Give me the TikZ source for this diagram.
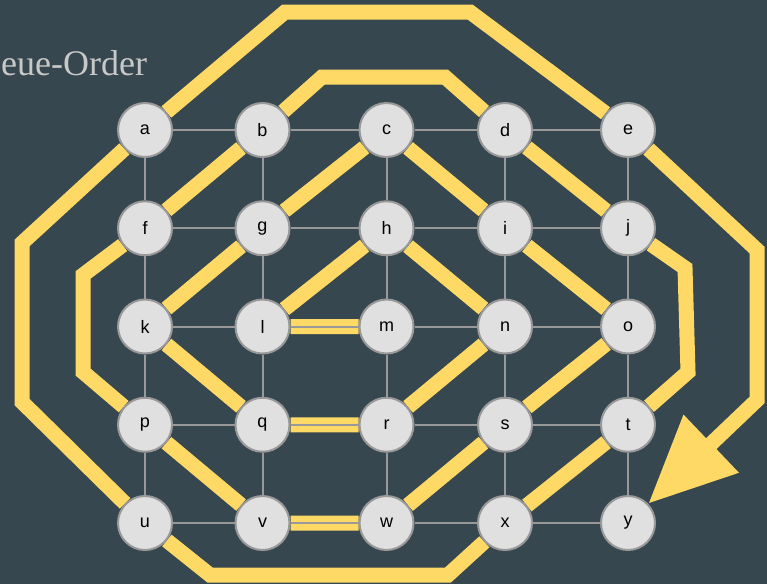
\documentclass[tikz,border=0pt]{standalone}
\usepackage{fontspec}
\setmainfont{Liberation Serif}
\newfontfamily\labelfont{Liberation Sans}
\usepackage{xcolor}
\usetikzlibrary{arrows.meta}
\usetikzlibrary{math}

\definecolor{slate}{HTML}{37474F}
\definecolor{gold}{HTML}{FFD966}
\definecolor{nodegray}{HTML}{E0E0E0}
\definecolor{edgegray}{HTML}{999999}
\definecolor{titlegray}{HTML}{C8C8C8}

\pgfdeclarelayer{back}
\pgfdeclarelayer{mid}
\pgfsetlayers{back,mid,main}

\begin{document}
\begin{tikzpicture}[x=1pt,y=-1pt,
  vertex/.style={circle,fill=nodegray,draw=edgegray,line width=2pt,minimum size=54pt,inner sep=0pt,font=\labelfont\fontsize{18}{18}\selectfont},
  gridedge/.style={edgegray,line width=2pt},
  spiral/.style={gold,line width=15pt,-{Triangle[length=87pt,width=76pt]}},
  title/.style={titlegray,anchor=base west,inner sep=0pt,font=\fontsize{36}{40}\selectfont}]
\tikzmath{
\dy=98.25;
}

\useasboundingbox (0,0) rectangle (767,584);

% grid of nodes
\foreach \lbl [count=\i from 0] in {a,...,y}{
  \pgfmathsetmacro{\cx}{{145,262.5,386.5,505,628}[mod(\i,5)]}
  \pgfmathtruncatemacro{\row}{int(\i/5)}
  \pgfmathtruncatemacro{\col}{mod(\i,5)}
  \node[vertex,alias=g-\row-\col] (\lbl) at (\cx,130+\row*\dy) {\lbl};
}

% corners of the spiral
\coordinate (il1) at (83,275);
\coordinate (il2) at (83,372);
\coordinate (it1) at (322,77);
\coordinate (it2) at (445,77);
\coordinate (ir1) at (685,268);
\coordinate (ir2) at (688,372);
\coordinate (ob1) at (448,575);
\coordinate (ob2) at (210,575);
\coordinate (ol1) at (22,402);
\coordinate (ol2) at (22,243);
\coordinate (ot1) at (285,12);
\coordinate (ot2) at (470,12);
\coordinate (or1) at (757,250);
\coordinate (or2) at (757,400);

\begin{pgfonlayer}{back}
\fill[slate] (0,0) rectangle (767,584);
\draw[spiral] (m) -- (l) -- (h) -- (n) -- (r) -- (q) -- (k) -- (g) -- (c) -- (i) -- (o) -- (s) -- (w) -- (v) -- (p)
  -- (il2) -- (il1) -- (f) -- (b) -- (it1) -- (it2) -- (d) -- (j) -- (ir1) -- (ir2) -- (t) -- (x)
  -- (ob1) -- (ob2) -- (u) -- (ol1) -- (ol2) -- (a) -- (ot1) -- (ot2) -- (e) -- (or1) -- (or2) -- (y);%spiral
\end{pgfonlayer}

\begin{pgfonlayer}{mid}
\foreach \r in {0,...,4}{
  \foreach \c [evaluate=\c as \cn using int(\c+1)] in {0,...,3}{
    \draw[gridedge] (g-\r-\c) -- (g-\r-\cn);
    \draw[gridedge] (g-\c-\r) -- (g-\cn-\r);
  }
}
\end{pgfonlayer}

\node[title] (ttl) at (1,75) {eue-Order};

\end{tikzpicture}
\end{document}
